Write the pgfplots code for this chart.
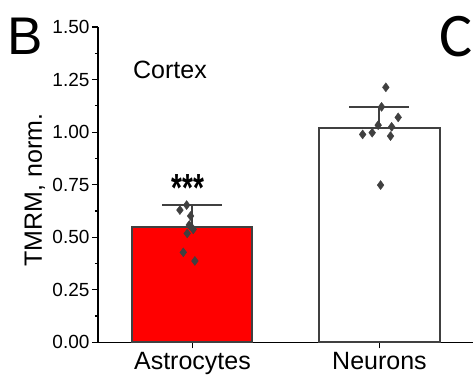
\documentclass[border=0pt]{standalone}
\usepackage{pgfplots}
\pgfplotsset{compat=1.18}
\usepackage{fontspec}
\setmainfont{Liberation Sans}
\newfontfamily\cfont{Carlito}
\definecolor{barline}{HTML}{404040}
\begin{document}
\begin{tikzpicture}[x=1bp,y=1bp]
\useasboundingbox (-98,-36.7) rectangle (375,342.3);
\begin{axis}[
  at={(0,0)}, anchor=south west,
  scale only axis, width=375bp, height=315.3bp,
  xmin=-0.505, xmax=1.5, ymin=0, ymax=1.5,
  clip=false,
  axis x line*=bottom, axis y line*=left,
  axis line style={line width=1.2bp, black, -},
  xtick={0,1}, xticklabels={Astrocytes,Neurons},
  ytick={0,0.25,0.5,0.75,1,1.25,1.5}, minor y tick num=1,
  /pgf/number format/assume math mode=true,
  yticklabel style={/pgf/number format/fixed,/pgf/number format/fixed zerofill,/pgf/number format/precision=2,
     font=\fontsize{19bp}{21bp}\selectfont, xshift=1bp},
  xticklabel style={font=\fontsize{25bp}{28bp}\selectfont},
  tick align=outside, major tick length=6bp, minor tick length=3bp,
  tick style={line width=1.2bp, black},
  ylabel={TMRM, norm.},
  ylabel style={at={(axis description cs:-0.168,0.483)}, anchor=center, font=\fontsize{25bp}{28bp}\selectfont},
]
\addplot[ybar, bar width=0.642, bar shift=0pt, fill=red, draw=barline, line width=2bp] coordinates {(0,0.547)};
\addplot[ybar, bar width=0.642, bar shift=0pt, fill=white, draw=barline, line width=2bp] coordinates {(1,1.020)};
\addplot[draw=none, mark=none, forget plot,
  error bars/.cd, y dir=plus, y explicit,
  error bar style={draw=barline, line width=2bp},
  error mark=-, error mark options={draw=barline, line width=2bp, mark size=30bp, rotate=90}]
  coordinates {(0,0.547) +- (0,0.104) (1,1.020) +- (0,0.100)};
\addplot[only marks, mark=diamond*, mark size=4.5bp, color=barline] coordinates {
 (-0.067,0.629) (-0.031,0.653) (-0.010,0.601) (-0.017,0.558)
 (0.004,0.537) (-0.028,0.518) (-0.049,0.428) (0.013,0.387)
 (1.034,1.213) (1.011,1.120) (1.100,1.070) (0.993,1.033) (1.065,1.025)
 (0.910,0.989) (0.961,0.997) (1.059,0.981) (1.006,0.748)
};
\node[font=\bfseries\fontsize{28bp}{30bp}\selectfont, inner sep=0pt, anchor=center, yscale=1.4] at (axis cs:-0.024,0.735) {***};
\end{axis}
\node[font=\fontsize{25bp}{28bp}\selectfont, anchor=center] at (72,272.3) {Cortex};
\node[font=\fontsize{53bp}{56bp}\selectfont, anchor=center, inner sep=0pt] at (-72.5,306.3) {B};
\node[font=\cfont\fontsize{62bp}{64bp}\selectfont, anchor=west, inner sep=0pt] at (341,305.3) {C};
\end{tikzpicture}
\end{document}
